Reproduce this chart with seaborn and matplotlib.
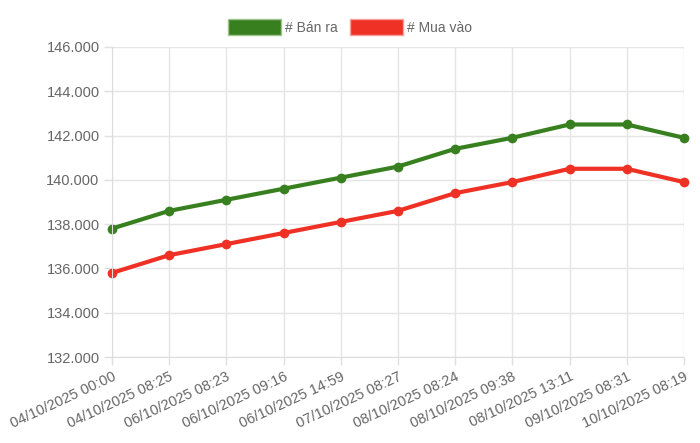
import pandas as pd
import matplotlib.pyplot as plt
import seaborn as sns
from matplotlib.patches import Patch
from matplotlib.ticker import FuncFormatter

labels = ['04/10/2025 00:00', '04/10/2025 08:25', '06/10/2025 08:23', '06/10/2025 09:16',
          '06/10/2025 14:59', '07/10/2025 08:27', '08/10/2025 08:24', '08/10/2025 09:38',
          '08/10/2025 13:11', '09/10/2025 08:31', '10/10/2025 08:19']
ban_ra = [137800, 138600, 139100, 139600, 140100, 140600, 141400, 141900, 142500, 142500, 141900]
mua_vao = [135800, 136600, 137100, 137600, 138100, 138600, 139400, 139900, 140500, 140500, 139900]

green = '#38801f'
red = '#ee3124'

sns.set_style('white')
plt.rcParams['font.family'] = ['Liberation Sans', 'DejaVu Sans']

df = pd.DataFrame({
    'x': list(range(len(labels))) * 2,
    'value': ban_ra + mua_vao,
    'series': ['# Bán ra'] * len(labels) + ['# Mua vào'] * len(labels),
})

fig = plt.figure(figsize=(7, 4.43), dpi=100)
ax = fig.add_axes([0.16, 0.194, 0.817, 0.700])

sns.lineplot(data=df, x='x', y='value', hue='series', palette=[green, red],
             marker='o', markersize=7, markeredgewidth=0, linewidth=3, ax=ax, legend=False)
for line in ax.lines:
    line.set_clip_on(False)

ax.set_xlim(0, len(labels) - 1)
ax.set_ylim(132000, 146000)
ax.set_yticks(range(132000, 146001, 2000))
ax.yaxis.set_major_formatter(FuncFormatter(lambda v, p: f'{int(v):,}'.replace(',', '.')))
ax.set_xticks(range(len(labels)))
ax.set_xticklabels(labels, rotation=25, ha='right', rotation_mode='anchor')
ax.set_xlabel('')
ax.set_ylabel('')

ax.grid(True, color='#e5e5e5', linewidth=1)
for s in ['top', 'right']:
    ax.spines[s].set_visible(False)
ax.spines['left'].set_color('#dddddd')
ax.spines['bottom'].set_color('#dddddd')
ax.tick_params(axis='both', colors='#e0e0e0', labelcolor='#666666', labelsize=10.5,
               length=6, width=1, direction='out', left=True, bottom=True, pad=3)

handles = [Patch(facecolor=green, edgecolor='#9fc490', label='# Bán ra'),
           Patch(facecolor=red, edgecolor='#f5a09a', label='# Mua vào')]
fig.legend(handles=handles, loc='upper center', bbox_to_anchor=(0.5, 0.985), ncol=2,
           frameon=False, handlelength=3.8, handleheight=1.4, handletextpad=0.3,
           columnspacing=0.9, fontsize=10, labelcolor='#666666')

fig.savefig('out.png', dpi=100)
